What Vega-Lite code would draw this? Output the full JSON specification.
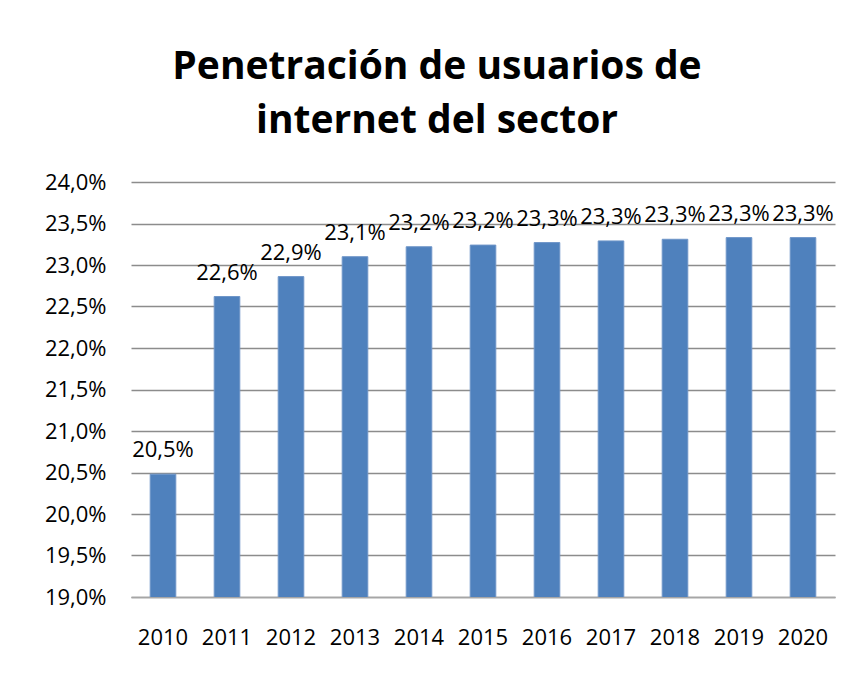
{
  "$schema": "https://vega.github.io/schema/vega-lite/v6.json",
  "autosize": "none",
  "width": 704,
  "height": 415,
  "padding": {"left": 131, "top": 182, "right": 25, "bottom": 78},
  "background": "white",
  "config": {
    "locale": {"number": {"decimal": ",", "thousands": ".", "grouping": [3], "currency": ["", " €"]}},
    "view": {"stroke": null},
    "font": "Open Sans"
  },
  "title": {
    "text": ["Penetración de usuarios de", "internet del sector"],
    "font": "Open Sans",
    "fontWeight": "bold",
    "fontSize": 39,
    "lineHeight": 54,
    "color": "black",
    "anchor": "middle",
    "dx": -46,
    "offset": 30
  },
  "data": {
    "values": [
      {"year": "2010", "pct": 0.2048},
      {"year": "2011", "pct": 0.2262},
      {"year": "2012", "pct": 0.2286},
      {"year": "2013", "pct": 0.2310},
      {"year": "2014", "pct": 0.2322},
      {"year": "2015", "pct": 0.2324},
      {"year": "2016", "pct": 0.2327},
      {"year": "2017", "pct": 0.2329},
      {"year": "2018", "pct": 0.2331},
      {"year": "2019", "pct": 0.2333},
      {"year": "2020", "pct": 0.2333}
    ]
  },
  "encoding": {
    "x": {
      "field": "year",
      "type": "ordinal",
      "scale": {"paddingInner": 0.6, "paddingOuter": 0.3},
      "axis": {
        "title": null,
        "labelAngle": 0,
        "labelFontSize": 22,
        "labelColor": "black",
        "labelPadding": 30,
        "ticks": false,
        "domainColor": "#A6A6A6",
        "domainWidth": 1.5
      }
    },
    "y": {
      "field": "pct",
      "type": "quantitative",
      "scale": {"domain": [0.19, 0.24], "zero": false, "nice": false},
      "axis": {
        "title": null,
        "format": ".1%",
        "values": [0.19, 0.195, 0.2, 0.205, 0.21, 0.215, 0.22, 0.225, 0.23, 0.235, 0.24],
        "labelFontSize": 22,
        "labelColor": "black",
        "labelPadding": 25,
        "ticks": false,
        "domain": false,
        "gridColor": "#8C8C8C",
        "gridWidth": 1.5
      }
    }
  },
  "layer": [
    {"mark": {"type": "bar", "clip": true, "color": "#4F81BD", "stroke": "#6E95C8", "strokeWidth": 1}},
    {
      "mark": {"type": "text", "baseline": "bottom", "dy": -12, "fontSize": 22, "color": "black"},
      "encoding": {"text": {"field": "pct", "type": "quantitative", "format": ".1%"}}
    }
  ]
}
